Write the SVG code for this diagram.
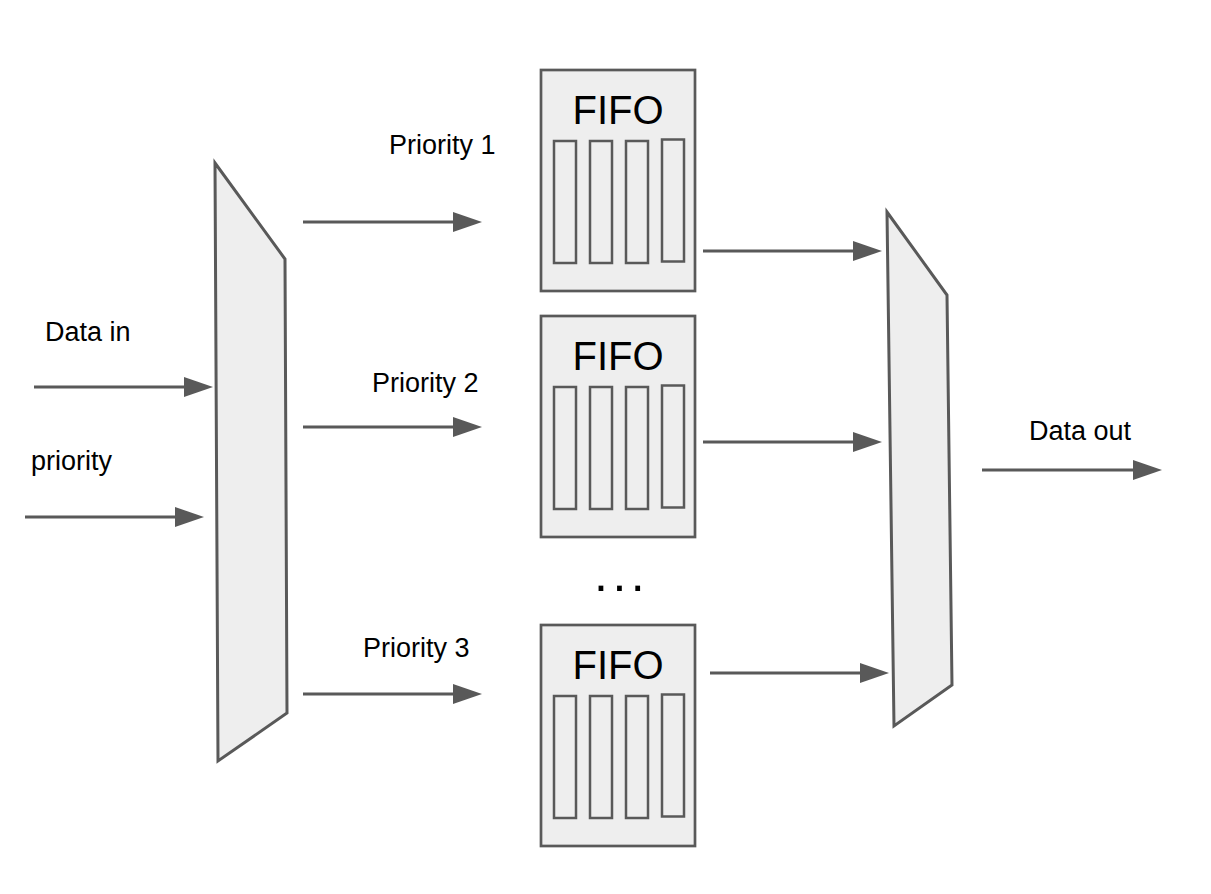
<svg xmlns="http://www.w3.org/2000/svg" width="1211" height="894" viewBox="0 0 1211 894">
  <style>
    .bg { fill: #ffffff; }
    .mux { fill: #eeeeee; stroke: #595959; stroke-width: 3; stroke-linejoin: miter; }
    .box { fill: #eeeeee; stroke: #595959; stroke-width: 2.7; }
    .slot { fill: #eeeeee; stroke: #595959; stroke-width: 2.5; }
    .conn { fill: none; stroke: #595959; stroke-width: 2.8; marker-end: url(#arrow); }
    .lbl { font-family: "Liberation Sans", Arial, sans-serif; font-size: 27px; fill: #000000; }
    .fifo { font-family: "Liberation Sans", Arial, sans-serif; font-size: 40px; fill: #000000; text-anchor: middle; }
    .dots { font-family: "Liberation Sans", Arial, sans-serif; font-size: 50px; fill: #000000; letter-spacing: 4.5px; }
  </style>
  <defs>
    <marker id="arrow" markerUnits="userSpaceOnUse" markerWidth="29" markerHeight="20" refX="0" refY="10" orient="auto" overflow="visible">
      <path d="M0,0 L29,10 L0,20 Z" fill="#595959"/>
    </marker>
    <g id="slots">
      <rect class="slot" x="554" y="0" width="22" height="122"/>
      <rect class="slot" x="590" y="0" width="22" height="122"/>
      <rect class="slot" x="626" y="0" width="22" height="122"/>
      <rect class="slot" x="662" y="-1.5" width="22" height="122"/>
    </g>
  </defs>
  <rect class="bg" x="0" y="0" width="1211" height="894"/>

  <g id="demux">
    <polygon class="mux" points="215,163 285,259 287,713 218,761"/>
  </g>
  <g id="mux">
    <polygon class="mux" points="887,212 947,295 952,685 894,726"/>
  </g>

  <g id="fifo1">
    <rect class="box" x="541" y="70" width="154" height="221"/>
    <text class="fifo" x="618" y="124">FIFO</text>
    <use href="#slots" y="141"/>
  </g>
  <g id="fifo2">
    <rect class="box" x="541" y="316" width="154" height="221"/>
    <text class="fifo" x="618" y="370">FIFO</text>
    <use href="#slots" y="387"/>
  </g>
  <g id="fifo3">
    <rect class="box" x="541" y="625" width="154" height="221"/>
    <text class="fifo" x="618" y="679">FIFO</text>
    <use href="#slots" y="696"/>
  </g>

  <g id="ellipsis">
    <text class="dots" x="594" y="591">...</text>
  </g>

  <g id="labels">
    <text class="lbl" x="45" y="341">Data in</text>
    <text class="lbl" x="31" y="470">priority</text>
    <text class="lbl" x="389" y="154">Priority 1</text>
    <text class="lbl" x="372" y="392">Priority 2</text>
    <text class="lbl" x="363" y="657">Priority 3</text>
    <text class="lbl" x="1029" y="440">Data out</text>
  </g>

  <g id="connectors">
    <line class="conn" x1="34" y1="387" x2="184" y2="387"/>
    <line class="conn" x1="25" y1="517" x2="175" y2="517"/>
    <line class="conn" x1="303" y1="222" x2="453" y2="222"/>
    <line class="conn" x1="303" y1="427" x2="453" y2="427"/>
    <line class="conn" x1="303" y1="694" x2="453" y2="694"/>
    <line class="conn" x1="703" y1="251" x2="853" y2="251"/>
    <line class="conn" x1="703" y1="442" x2="853" y2="442"/>
    <line class="conn" x1="710" y1="673" x2="860" y2="673"/>
    <line class="conn" x1="982" y1="470" x2="1133" y2="470"/>
  </g>
</svg>
